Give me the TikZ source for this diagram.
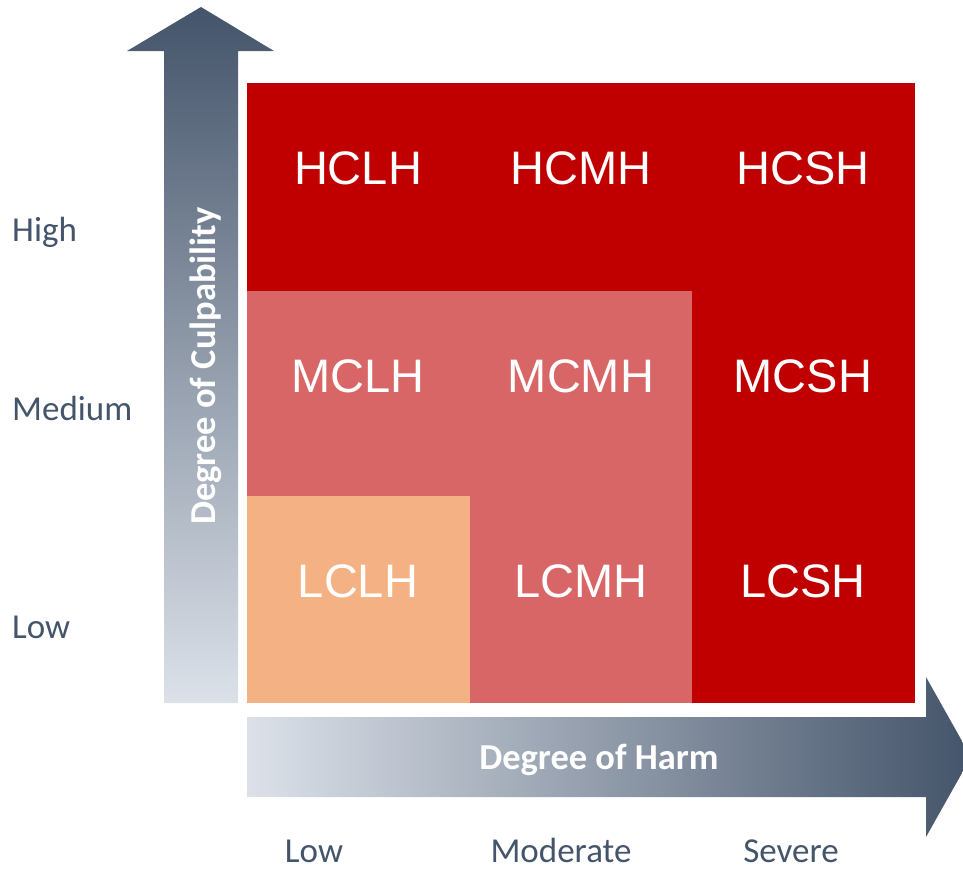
\documentclass[tikz,border=0pt]{standalone}
\usepackage{fontspec}
\setmainfont{Carlito}
\newfontfamily\cellfont{Liberation Sans}
\definecolor{slatedark}{HTML}{44546A}
\definecolor{slatemid}{HTML}{7888A0}
\definecolor{slatelight}{HTML}{DCE1E9}
\definecolor{cellred}{HTML}{C00000}
\definecolor{cellmid}{HTML}{D96666}
\definecolor{celllight}{HTML}{F4B183}
\tikzset{
  celltext/.style={text=white, font=\cellfont\fontsize{47}{50}\selectfont, inner sep=0pt},
  axistext/.style={text=white, font=\bfseries\fontsize{36.5}{40}\selectfont, inner sep=0pt},
  leveltext/.style={text=slatedark, font=\fontsize{35}{40}\selectfont, inner sep=0pt}
}
\begin{document}
\begin{tikzpicture}[x=1pt,y=-1pt]
\useasboundingbox (0,0) rectangle (963,870);
% vertical arrow
\shade[top color=slatedark, middle color=slatemid, bottom color=slatelight]
  (164,703) -- (164,51) -- (127,51) -- (201,7) -- (274,51) -- (238,51) -- (238,703) -- cycle;
% horizontal arrow
\shade[left color=slatelight, middle color=slatemid, right color=slatedark]
  (247,717) -- (926,717) -- (926,677) -- (971,757) -- (926,837) -- (926,797) -- (247,797) -- cycle;
% cells
\fill[cellred] (247,83) rectangle (915,703);
\fill[cellmid] (247,291) rectangle (692,703);
\fill[celllight] (247,496) rectangle (470,703);
% cell labels
\node[celltext] (hclh) at (358,168) {HCLH};
\node[celltext] (hcmh) at (581,168) {HCMH};
\node[celltext] (hcsh) at (803,168) {HCSH};
\node[celltext] (mclh) at (358,376) {MCLH};
\node[celltext] (mcmh) at (581,376) {MCMH};
\node[celltext] (mcsh) at (803,376) {MCSH};
\node[celltext] (lclh) at (358,581) {LCLH};
\node[celltext] (lcmh) at (581,581) {LCMH};
\node[celltext] (lcsh) at (803,581) {LCSH};
% axis titles
\node[axistext, rotate=90] (culp) at (206,366) {Degree of Culpability};
\node[axistext] (harm) at (599,760) {Degree of Harm};
% level labels
\node[leveltext, anchor=base west] (high) at (12,241) {High};
\node[leveltext, anchor=base west] (medium) at (12,420) {Medium};
\node[leveltext, anchor=base west] (low) at (12,638) {Low};
\node[leveltext, anchor=base] (hlow) at (314,862) {Low};
\node[leveltext, anchor=base] (hmod) at (561,862) {Moderate};
\node[leveltext, anchor=base] (hsev) at (791,862) {Severe};
\end{tikzpicture}
\end{document}
